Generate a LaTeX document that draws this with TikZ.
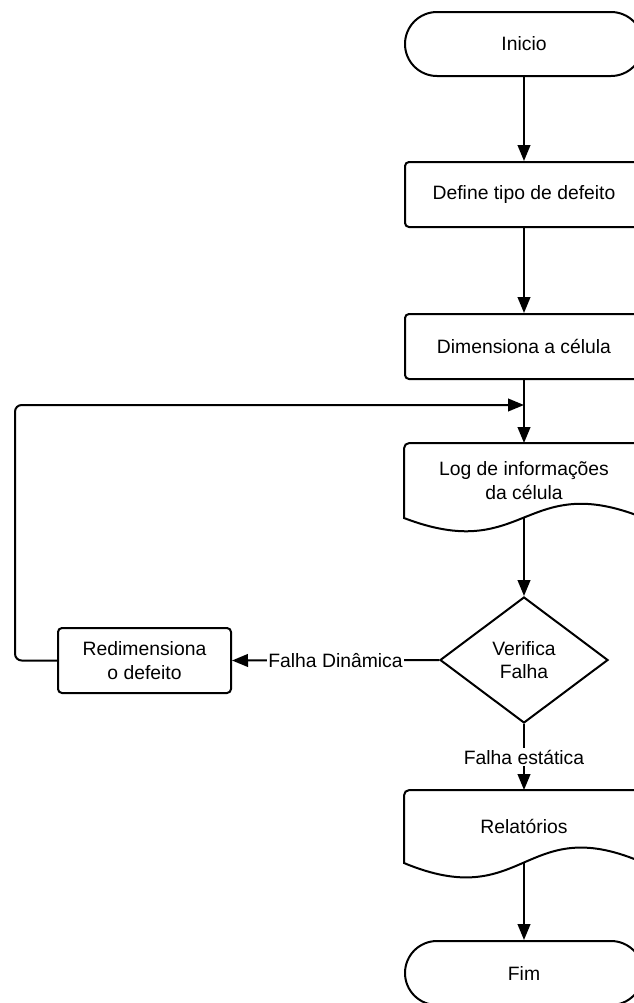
\documentclass[tikz,border=0pt]{standalone}
\usepackage{fontspec}
\setmainfont{Liberation Sans}
\usetikzlibrary{arrows.meta,shapes.geometric,calc}
\tikzset{
  base/.style={font=\fontsize{14.5}{17.5}\selectfont, align=center, inner sep=0pt, line width=1.5pt},
  term/.style={base, draw, rounded corners=24pt, minimum width=178.5pt, minimum height=48pt},
  proc/.style={base, draw, rounded corners=3pt, minimum width=178.5pt, minimum height=48.75pt},
  docnode/.style={base, minimum width=178.5pt},
  decision/.style={base, draw, diamond, minimum width=126pt, minimum height=94.5pt},
  conn/.style={line width=1.5pt, -{Triangle[length=12pt,width=9.5pt]}},
  plain/.style={line width=1.5pt},
  lbl/.style={font=\fontsize{14.5}{17.5}\selectfont, fill=white, inner sep=1pt}
}
\begin{document}
\begin{tikzpicture}[x=0.75pt,y=-0.75pt]
\useasboundingbox (0,0) rectangle (634,1003);
\clip (0,0) rectangle (634,1003);

\node[term] (ini) at (524,44) {Inicio};
\node[proc] (def) at (524,194.5) {Define tipo de defeito};
\node[proc] (dim) at (524,346.5) {Dimensiona a célula};
\node[docnode, minimum height=54.75pt] (log) at (524,480.5) {Log de informações\\da célula};
\node[decision] (dia) at (524,660) {Verifica\\Falha};
\node[proc, minimum width=129.75pt] (red) at (144.5,660.5) {Redimensiona\\o defeito};
\node[docnode, minimum height=53.25pt] (rel) at (524,826.5) {Relatórios};
\node[term] (fim) at (524,973) {Fim};

\draw[plain, rounded corners=4pt] (log.south west) -- (log.north west) -- (log.north east) -- (log.south east) [sharp corners]
  .. controls ($(log.south)+(0,-46)$) and ($(log.south)+(0,46)$) .. (log.south west) -- cycle;
\draw[plain, rounded corners=4pt] (rel.south west) -- (rel.north west) -- (rel.north east) -- (rel.south east) [sharp corners]
  .. controls ($(rel.south)+(0,-50)$) and ($(rel.south)+(0,50)$) .. (rel.south west) -- cycle;

\coordinate (join) at (524,405);

\draw[conn] (ini) -- (def);
\draw[conn] (def) -- (dim);
\draw[conn] (dim) -- (log);
\draw[conn] (log.south) -- (dia.north);
\draw[conn] (dia.west) -- node[lbl] {Falha Dinâmica} (red.east);
\draw[conn, rounded corners=5pt] (red.west) -- ++(-42,0) |- (join);
\draw[conn] (dia.south) -- node[lbl] {Falha estática} (rel.north);
\draw[conn] (rel.south) -- (fim);
\end{tikzpicture}
\end{document}
